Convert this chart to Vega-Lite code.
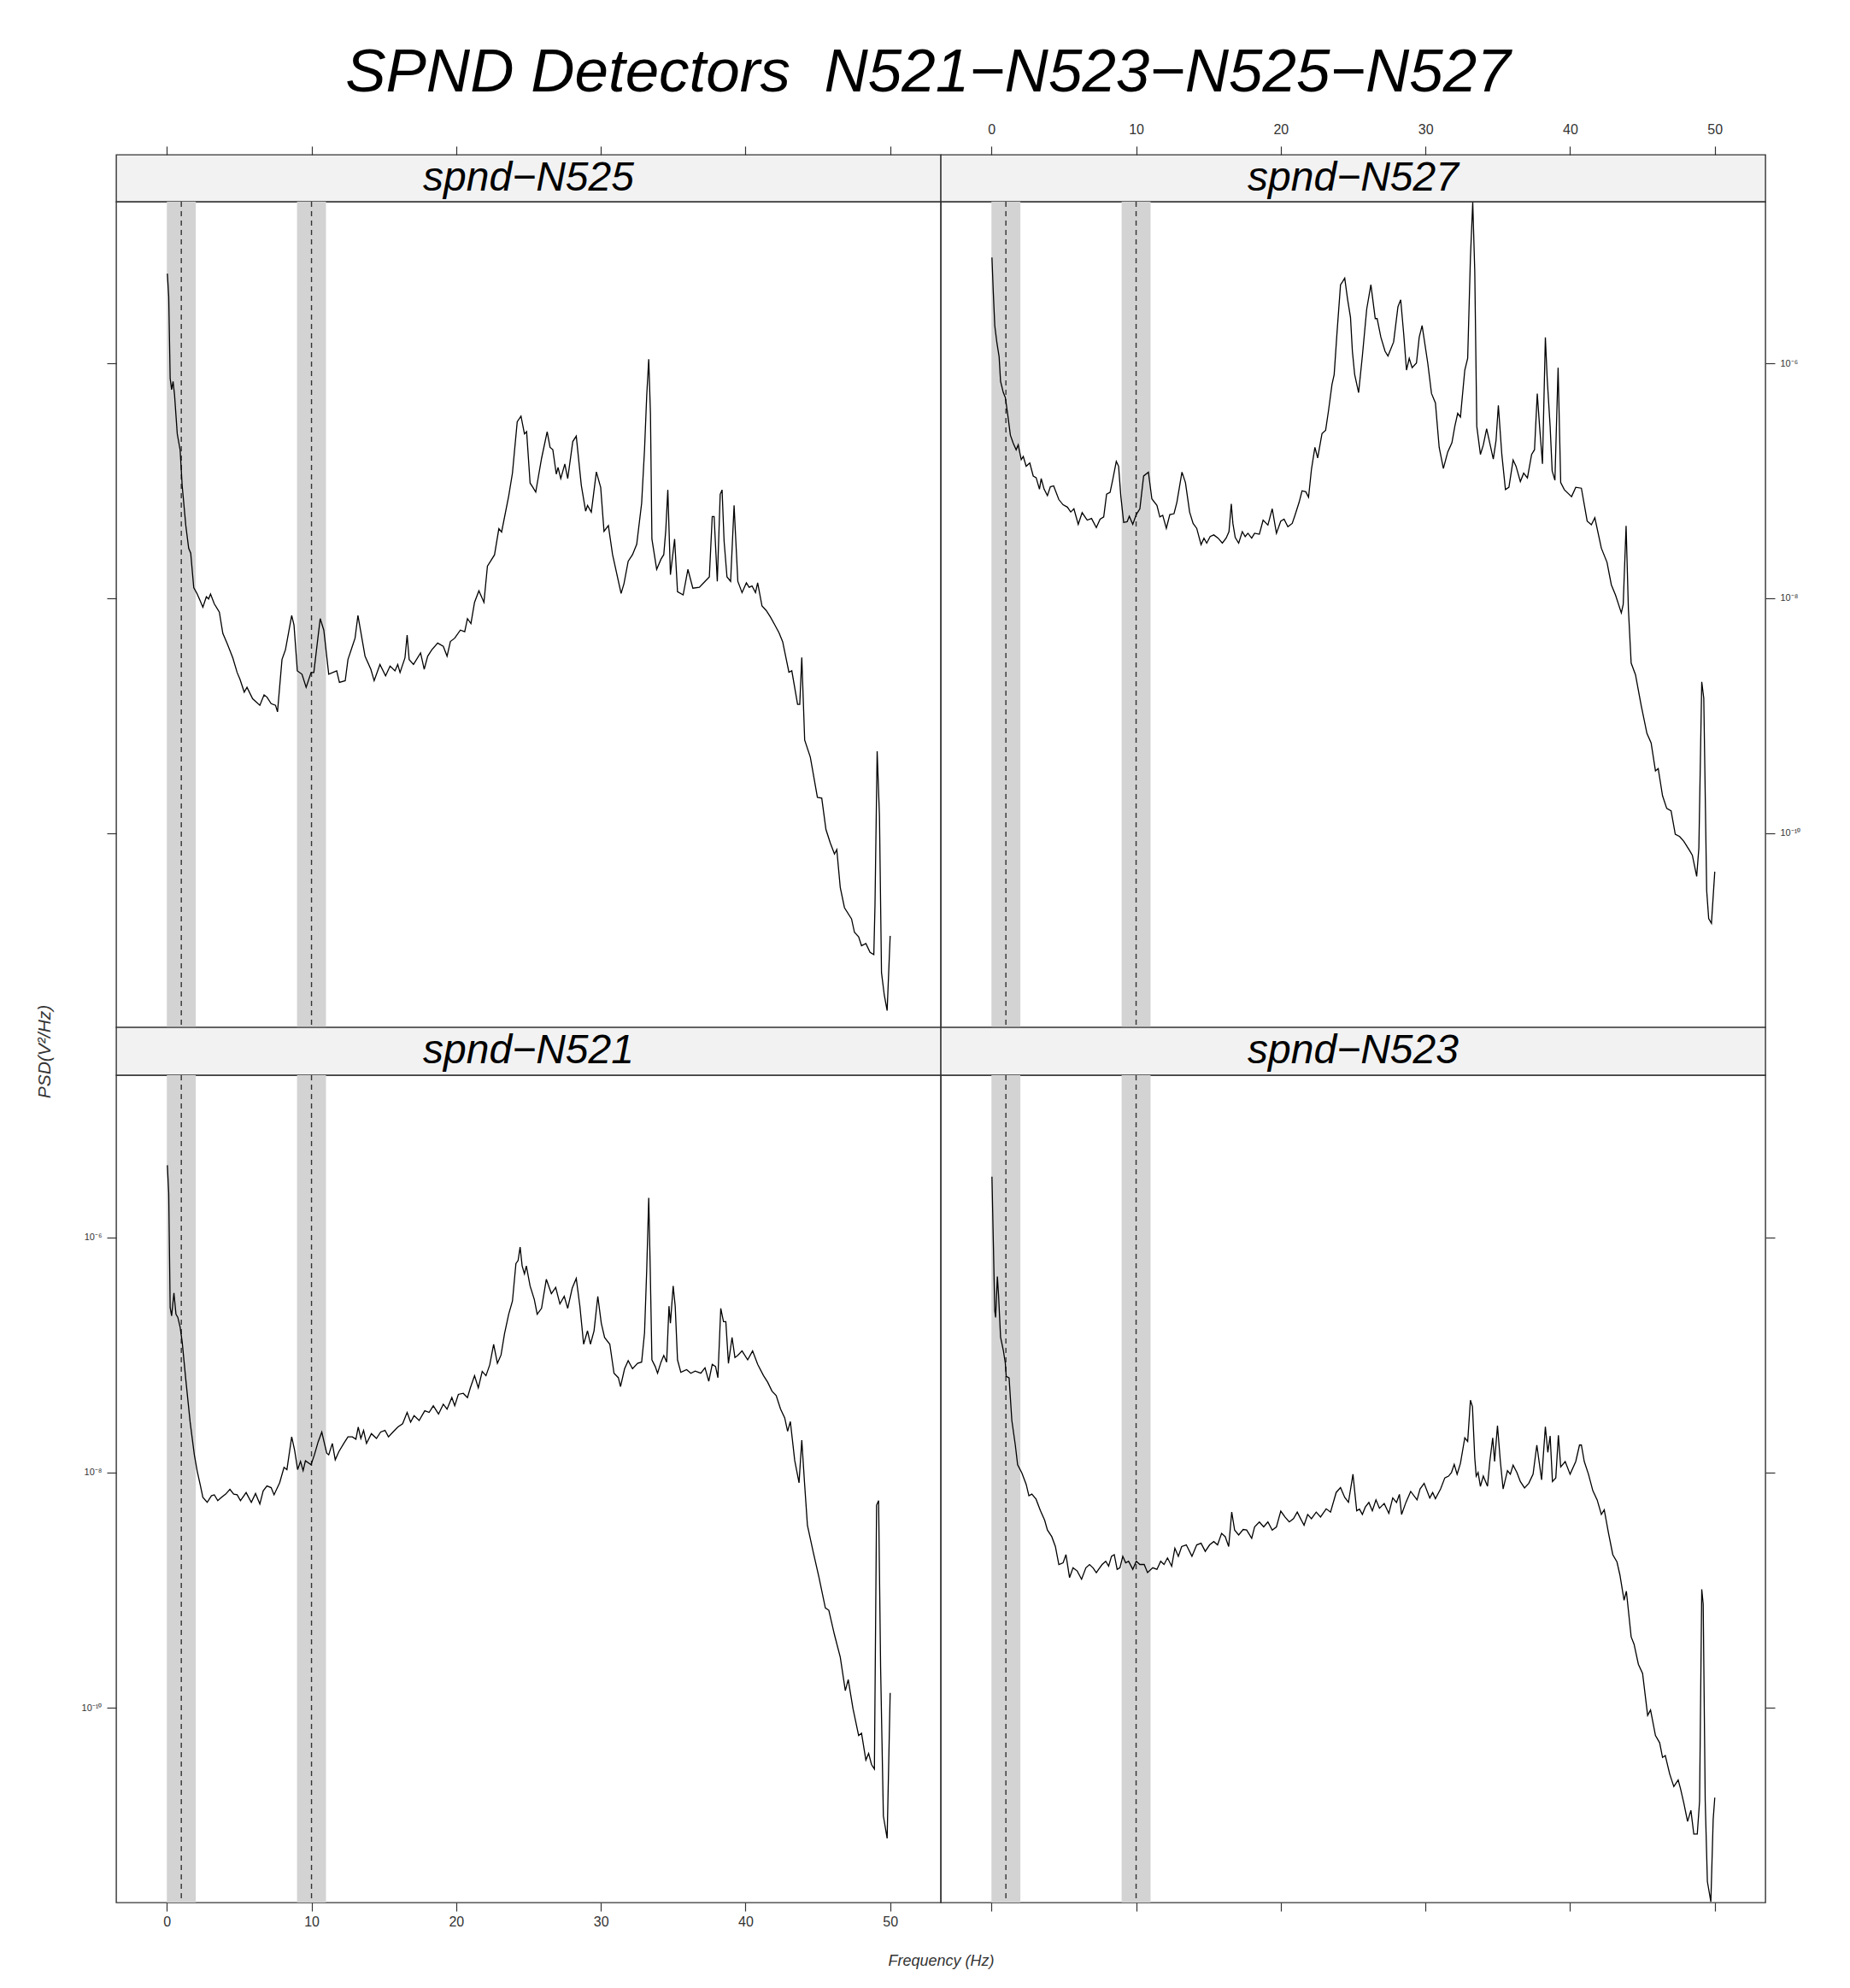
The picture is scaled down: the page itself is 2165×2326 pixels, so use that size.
{
"$schema": "https://vega.github.io/schema/vega-lite/v6.json",
"background": "white",
"padding": {"left": 40, "top": 50, "right": 10, "bottom": 10},
"title": {"text": "SPND Detectors\u00a0 N521−N523−N525−N527", "font": "Liberation Sans", "fontSize": 71, "fontStyle": "italic", "fontWeight": "normal", "color": "black", "anchor": "middle", "offset": 20, "dx": 12},
"config": {
  "font": "Liberation Sans",
  "view": {"stroke": "#333333", "strokeWidth": 1.4},
  "axis": {"tickColor": "#333333", "labelColor": "#333333", "tickWidth": 1.2, "grid": false, "domain": false, "labelFont": "Liberation Sans"}
},
"columns": 2,
"spacing": 0,
"bounds": "flush",
"datasets": {
"N525": [
{"freq":0.035,"log_psd":-5.233},{"freq":0.13,"log_psd":-5.428},{"freq":0.23,"log_psd":-6.125},{"freq":0.33,"log_psd":-6.222},{"freq":0.43,"log_psd":-6.153},{"freq":0.53,"log_psd":-6.264},{"freq":0.72,"log_psd":-6.599},{"freq":0.92,"log_psd":-6.738},{"freq":1.06,"log_psd":-7.04},{"freq":1.31,"log_psd":-7.38},{"freq":1.51,"log_psd":-7.574},{"freq":1.65,"log_psd":-7.616},{"freq":1.86,"log_psd":-7.909},{"freq":2.1,"log_psd":-7.964},{"freq":2.3,"log_psd":-8.02},{"freq":2.49,"log_psd":-8.076},{"freq":2.73,"log_psd":-7.987},{"freq":2.89,"log_psd":-8.006},{"freq":3.02,"log_psd":-7.964},{"freq":3.28,"log_psd":-8.048},{"freq":3.63,"log_psd":-8.118},{"freq":3.87,"log_psd":-8.299},{"freq":4.16,"log_psd":-8.382},{"freq":4.56,"log_psd":-8.508},{"freq":4.86,"log_psd":-8.633},{"freq":5.05,"log_psd":-8.689},{"freq":5.35,"log_psd":-8.8},{"freq":5.54,"log_psd":-8.759},{"freq":5.93,"log_psd":-8.856},{"freq":6.43,"log_psd":-8.912},{"freq":6.72,"log_psd":-8.823},{"freq":6.92,"log_psd":-8.842},{"freq":7.21,"log_psd":-8.898},{"freq":7.51,"log_psd":-8.912},{"freq":7.65,"log_psd":-8.968},{"freq":7.96,"log_psd":-8.522},{"freq":8.2,"log_psd":-8.438},{"freq":8.63,"log_psd":-8.146},{"freq":8.79,"log_psd":-8.229},{"freq":9.02,"log_psd":-8.619},{"freq":9.34,"log_psd":-8.647},{"freq":9.63,"log_psd":-8.759},{"freq":9.97,"log_psd":-8.633},{"freq":10.16,"log_psd":-8.633},{"freq":10.6,"log_psd":-8.173},{"freq":10.85,"log_psd":-8.271},{"freq":11.19,"log_psd":-8.647},{"freq":11.74,"log_psd":-8.619},{"freq":11.93,"log_psd":-8.717},{"freq":12.33,"log_psd":-8.703},{"freq":12.52,"log_psd":-8.522},{"freq":12.82,"log_psd":-8.41},{"freq":13.01,"log_psd":-8.34},{"freq":13.21,"log_psd":-8.146},{"freq":13.7,"log_psd":-8.494},{"freq":14.1,"log_psd":-8.605},{"freq":14.33,"log_psd":-8.703},{"freq":14.73,"log_psd":-8.564},{"freq":15.12,"log_psd":-8.661},{"freq":15.43,"log_psd":-8.578},{"freq":15.77,"log_psd":-8.619},{"freq":15.96,"log_psd":-8.564},{"freq":16.12,"log_psd":-8.633},{"freq":16.46,"log_psd":-8.508},{"freq":16.61,"log_psd":-8.313},{"freq":16.75,"log_psd":-8.522},{"freq":17.05,"log_psd":-8.564},{"freq":17.54,"log_psd":-8.466},{"freq":17.79,"log_psd":-8.605},{"freq":18.03,"log_psd":-8.494},{"freq":18.32,"log_psd":-8.438},{"freq":18.72,"log_psd":-8.382},{"freq":19.11,"log_psd":-8.41},{"freq":19.37,"log_psd":-8.494},{"freq":19.6,"log_psd":-8.368},{"freq":19.9,"log_psd":-8.34},{"freq":20.29,"log_psd":-8.271},{"freq":20.59,"log_psd":-8.285},{"freq":20.78,"log_psd":-8.173},{"freq":21.02,"log_psd":-8.215},{"freq":21.27,"log_psd":-8.034},{"freq":21.57,"log_psd":-7.936},{"freq":21.92,"log_psd":-8.034},{"freq":22.16,"log_psd":-7.727},{"freq":22.65,"log_psd":-7.63},{"freq":22.95,"log_psd":-7.407},{"freq":23.14,"log_psd":-7.435},{"freq":23.63,"log_psd":-7.128},{"freq":23.89,"log_psd":-6.933},{"freq":24.22,"log_psd":-6.495},{"freq":24.48,"log_psd":-6.447},{"freq":24.72,"log_psd":-6.599},{"freq":24.87,"log_psd":-6.58},{"freq":25.11,"log_psd":-7.018},{"freq":25.31,"log_psd":-7.056},{"freq":25.5,"log_psd":-7.095},{"freq":25.9,"log_psd":-6.809},{"freq":26.29,"log_psd":-6.58},{"freq":26.49,"log_psd":-6.714},{"freq":26.68,"log_psd":-6.733},{"freq":26.92,"log_psd":-6.942},{"freq":27.04,"log_psd":-6.885},{"freq":27.23,"log_psd":-6.98},{"freq":27.51,"log_psd":-6.855},{"freq":27.71,"log_psd":-6.98},{"freq":28.06,"log_psd":-6.664},{"freq":28.3,"log_psd":-6.618},{"freq":28.65,"log_psd":-7.037},{"freq":28.95,"log_psd":-7.258},{"freq":29.08,"log_psd":-7.209},{"freq":29.34,"log_psd":-7.266},{"freq":29.69,"log_psd":-6.923},{"freq":29.99,"log_psd":-7.056},{"freq":30.22,"log_psd":-7.43},{"freq":30.52,"log_psd":-7.38},{"freq":30.81,"log_psd":-7.628},{"freq":31.4,"log_psd":-7.959},{"freq":31.6,"log_psd":-7.875},{"freq":31.89,"log_psd":-7.685},{"freq":32.19,"log_psd":-7.628},{"freq":32.48,"log_psd":-7.54},{"freq":32.82,"log_psd":-7.19},{"freq":33.02,"log_psd":-6.733},{"freq":33.17,"log_psd":-6.275},{"freq":33.31,"log_psd":-5.963},{"freq":33.43,"log_psd":-6.428},{"freq":33.53,"log_psd":-7.495},{"freq":33.86,"log_psd":-7.754},{"freq":34.16,"log_psd":-7.666},{"freq":34.35,"log_psd":-7.628},{"freq":34.49,"log_psd":-7.418},{"freq":34.63,"log_psd":-7.076},{"freq":34.81,"log_psd":-7.799},{"freq":35.1,"log_psd":-7.495},{"freq":35.3,"log_psd":-7.944},{"freq":35.69,"log_psd":-7.971},{"freq":36.02,"log_psd":-7.754},{"freq":36.36,"log_psd":-7.914},{"freq":36.81,"log_psd":-7.906},{"freq":37.2,"log_psd":-7.856},{"freq":37.5,"log_psd":-7.818},{"freq":37.7,"log_psd":-7.304},{"freq":37.83,"log_psd":-7.304},{"freq":38.05,"log_psd":-7.856},{"freq":38.25,"log_psd":-7.114},{"freq":38.38,"log_psd":-7.076},{"freq":38.52,"log_psd":-7.514},{"freq":38.72,"log_psd":-7.818},{"freq":38.97,"log_psd":-7.856},{"freq":39.21,"log_psd":-7.209},{"freq":39.47,"log_psd":-7.856},{"freq":39.76,"log_psd":-7.952},{"freq":40.06,"log_psd":-7.868},{"freq":40.25,"log_psd":-7.906},{"freq":40.45,"log_psd":-7.895},{"freq":40.69,"log_psd":-7.952},{"freq":40.84,"log_psd":-7.868},{"freq":41.14,"log_psd":-8.066},{"freq":41.43,"log_psd":-8.104},{"freq":41.73,"log_psd":-8.161},{"freq":42.02,"log_psd":-8.226},{"freq":42.32,"log_psd":-8.295},{"freq":42.57,"log_psd":-8.371},{"freq":43.0,"log_psd":-8.63},{"freq":43.2,"log_psd":-8.618},{"freq":43.6,"log_psd":-8.904},{"freq":43.75,"log_psd":-8.904},{"freq":43.89,"log_psd":-8.504},{"freq":44.09,"log_psd":-9.209},{"freq":44.48,"log_psd":-9.354},{"freq":44.97,"log_psd":-9.697},{"freq":45.27,"log_psd":-9.704},{"freq":45.56,"log_psd":-9.971},{"freq":45.86,"log_psd":-10.085},{"freq":46.15,"log_psd":-10.18},{"freq":46.31,"log_psd":-10.142},{"freq":46.55,"log_psd":-10.466},{"freq":46.84,"log_psd":-10.637},{"freq":47.33,"log_psd":-10.733},{"freq":47.53,"log_psd":-10.847},{"freq":47.82,"log_psd":-10.885},{"freq":48.02,"log_psd":-10.961},{"freq":48.32,"log_psd":-10.942},{"freq":48.61,"log_psd":-11.018},{"freq":48.87,"log_psd":-11.037},{"freq":48.95,"log_psd":-10.618},{"freq":49.1,"log_psd":-9.304},{"freq":49.26,"log_psd":-9.856},{"freq":49.4,"log_psd":-11.19},{"freq":49.59,"log_psd":-11.38},{"freq":49.79,"log_psd":-11.514},{"freq":50.0,"log_psd":-10.877}
],
"N527": [
{"freq":0.035,"log_psd":-5.096},{"freq":0.13,"log_psd":-5.397},{"freq":0.23,"log_psd":-5.676},{"freq":0.37,"log_psd":-5.815},{"freq":0.53,"log_psd":-5.941},{"freq":0.63,"log_psd":-6.15},{"freq":0.82,"log_psd":-6.247},{"freq":0.96,"log_psd":-6.289},{"freq":1.12,"log_psd":-6.429},{"freq":1.31,"log_psd":-6.61},{"freq":1.51,"log_psd":-6.68},{"freq":1.71,"log_psd":-6.735},{"freq":1.85,"log_psd":-6.693},{"freq":2.06,"log_psd":-6.819},{"freq":2.2,"log_psd":-6.791},{"freq":2.4,"log_psd":-6.875},{"freq":2.65,"log_psd":-6.847},{"freq":2.89,"log_psd":-6.958},{"freq":3.09,"log_psd":-6.972},{"freq":3.32,"log_psd":-7.07},{"freq":3.44,"log_psd":-6.98},{"freq":3.64,"log_psd":-7.07},{"freq":3.87,"log_psd":-7.125},{"freq":4.07,"log_psd":-7.05},{"freq":4.3,"log_psd":-7.042},{"freq":4.66,"log_psd":-7.159},{"freq":4.95,"log_psd":-7.203},{"freq":5.25,"log_psd":-7.223},{"freq":5.48,"log_psd":-7.265},{"freq":5.7,"log_psd":-7.237},{"freq":6.0,"log_psd":-7.37},{"freq":6.27,"log_psd":-7.27},{"freq":6.62,"log_psd":-7.334},{"freq":6.92,"log_psd":-7.32},{"freq":7.25,"log_psd":-7.398},{"freq":7.51,"log_psd":-7.326},{"freq":7.76,"log_psd":-7.307},{"freq":7.96,"log_psd":-7.112},{"freq":8.2,"log_psd":-7.097},{"freq":8.39,"log_psd":-6.986},{"freq":8.63,"log_psd":-6.833},{"freq":8.79,"log_psd":-6.875},{"freq":8.94,"log_psd":-7.125},{"freq":9.14,"log_psd":-7.354},{"freq":9.38,"log_psd":-7.348},{"freq":9.53,"log_psd":-7.301},{"freq":9.77,"log_psd":-7.37},{"freq":10.01,"log_psd":-7.287},{"freq":10.26,"log_psd":-7.237},{"freq":10.52,"log_psd":-6.958},{"freq":10.85,"log_psd":-6.925},{"freq":11.09,"log_psd":-7.153},{"freq":11.44,"log_psd":-7.209},{"freq":11.64,"log_psd":-7.307},{"freq":11.84,"log_psd":-7.293},{"freq":12.09,"log_psd":-7.404},{"freq":12.33,"log_psd":-7.287},{"freq":12.62,"log_psd":-7.279},{"freq":12.82,"log_psd":-7.181},{"freq":13.17,"log_psd":-6.925},{"freq":13.41,"log_psd":-7.014},{"freq":13.7,"log_psd":-7.265},{"freq":13.94,"log_psd":-7.362},{"freq":14.19,"log_psd":-7.404},{"freq":14.49,"log_psd":-7.543},{"freq":14.69,"log_psd":-7.488},{"freq":14.88,"log_psd":-7.53},{"freq":15.12,"log_psd":-7.474},{"freq":15.37,"log_psd":-7.46},{"freq":15.67,"log_psd":-7.488},{"freq":15.96,"log_psd":-7.53},{"freq":16.22,"log_psd":-7.488},{"freq":16.42,"log_psd":-7.432},{"freq":16.58,"log_psd":-7.195},{"freq":16.69,"log_psd":-7.362},{"freq":16.85,"log_psd":-7.482},{"freq":17.09,"log_psd":-7.53},{"freq":17.34,"log_psd":-7.432},{"freq":17.54,"log_psd":-7.474},{"freq":17.73,"log_psd":-7.446},{"freq":17.99,"log_psd":-7.488},{"freq":18.19,"log_psd":-7.446},{"freq":18.52,"log_psd":-7.454},{"freq":18.78,"log_psd":-7.334},{"freq":19.11,"log_psd":-7.376},{"freq":19.41,"log_psd":-7.237},{"freq":19.7,"log_psd":-7.446},{"freq":20.0,"log_psd":-7.343},{"freq":20.23,"log_psd":-7.326},{"freq":20.49,"log_psd":-7.39},{"freq":20.79,"log_psd":-7.362},{"freq":20.98,"log_psd":-7.293},{"freq":21.27,"log_psd":-7.181},{"freq":21.47,"log_psd":-7.084},{"freq":21.73,"log_psd":-7.092},{"freq":21.92,"log_psd":-7.139},{"freq":22.12,"log_psd":-6.902},{"freq":22.36,"log_psd":-6.713},{"freq":22.55,"log_psd":-6.805},{"freq":22.85,"log_psd":-6.596},{"freq":23.1,"log_psd":-6.568},{"freq":23.3,"log_psd":-6.401},{"freq":23.54,"log_psd":-6.178},{"freq":23.69,"log_psd":-6.094},{"freq":23.89,"log_psd":-5.732},{"freq":24.13,"log_psd":-5.328},{"freq":24.28,"log_psd":-5.3},{"freq":24.42,"log_psd":-5.272},{"freq":24.62,"log_psd":-5.453},{"freq":24.82,"log_psd":-5.606},{"freq":24.95,"log_psd":-5.895},{"freq":25.11,"log_psd":-6.095},{"freq":25.38,"log_psd":-6.247},{"freq":25.64,"log_psd":-5.935},{"freq":25.94,"log_psd":-5.536},{"freq":26.23,"log_psd":-5.328},{"freq":26.53,"log_psd":-5.616},{"freq":26.66,"log_psd":-5.616},{"freq":26.92,"log_psd":-5.776},{"freq":27.21,"log_psd":-5.895},{"freq":27.41,"log_psd":-5.935},{"freq":27.8,"log_psd":-5.816},{"freq":28.1,"log_psd":-5.516},{"freq":28.29,"log_psd":-5.456},{"freq":28.49,"log_psd":-5.736},{"freq":28.69,"log_psd":-6.055},{"freq":28.88,"log_psd":-5.955},{"freq":29.08,"log_psd":-6.035},{"freq":29.38,"log_psd":-5.995},{"freq":29.57,"log_psd":-5.776},{"freq":29.77,"log_psd":-5.676},{"freq":30.16,"log_psd":-5.995},{"freq":30.42,"log_psd":-6.255},{"freq":30.69,"log_psd":-6.335},{"freq":30.95,"log_psd":-6.714},{"freq":31.24,"log_psd":-6.894},{"freq":31.54,"log_psd":-6.754},{"freq":31.83,"log_psd":-6.675},{"freq":32.03,"log_psd":-6.535},{"freq":32.23,"log_psd":-6.423},{"freq":32.42,"log_psd":-6.455},{"freq":32.72,"log_psd":-6.055},{"freq":32.92,"log_psd":-5.955},{"freq":33.11,"log_psd":-5.096},{"freq":33.27,"log_psd":-4.625},{"freq":33.41,"log_psd":-5.216},{"freq":33.55,"log_psd":-6.535},{"freq":33.8,"log_psd":-6.774},{"freq":34.0,"log_psd":-6.694},{"freq":34.23,"log_psd":-6.555},{"freq":34.69,"log_psd":-6.814},{"freq":34.88,"log_psd":-6.655},{"freq":35.04,"log_psd":-6.355},{"freq":35.28,"log_psd":-6.774},{"freq":35.53,"log_psd":-7.074},{"freq":35.77,"log_psd":-7.054},{"freq":36.06,"log_psd":-6.822},{"freq":36.26,"log_psd":-6.874},{"freq":36.56,"log_psd":-7.006},{"freq":36.79,"log_psd":-6.934},{"freq":37.05,"log_psd":-6.974},{"freq":37.34,"log_psd":-6.774},{"freq":37.54,"log_psd":-6.734},{"freq":37.73,"log_psd":-6.255},{"freq":37.89,"log_psd":-6.535},{"freq":38.09,"log_psd":-6.854},{"freq":38.29,"log_psd":-5.776},{"freq":38.42,"log_psd":-6.135},{"freq":38.62,"log_psd":-6.535},{"freq":38.76,"log_psd":-6.914},{"freq":38.95,"log_psd":-6.994},{"freq":39.17,"log_psd":-6.035},{"freq":39.35,"log_psd":-7.014},{"freq":39.6,"log_psd":-7.074},{"freq":40.1,"log_psd":-7.134},{"freq":40.39,"log_psd":-7.054},{"freq":40.78,"log_psd":-7.062},{"freq":41.18,"log_psd":-7.342},{"freq":41.47,"log_psd":-7.374},{"freq":41.71,"log_psd":-7.314},{"freq":42.16,"log_psd":-7.573},{"freq":42.55,"log_psd":-7.693},{"freq":42.85,"log_psd":-7.885},{"freq":43.14,"log_psd":-7.973},{"freq":43.54,"log_psd":-8.125},{"freq":43.67,"log_psd":-8.053},{"freq":43.87,"log_psd":-7.382},{"freq":44.03,"log_psd":-8.093},{"freq":44.22,"log_psd":-8.552},{"freq":44.52,"log_psd":-8.652},{"freq":44.91,"log_psd":-8.912},{"freq":45.31,"log_psd":-9.152},{"freq":45.6,"log_psd":-9.232},{"freq":45.9,"log_psd":-9.471},{"freq":46.09,"log_psd":-9.451},{"freq":46.39,"log_psd":-9.683},{"freq":46.68,"log_psd":-9.791},{"freq":46.98,"log_psd":-9.811},{"freq":47.27,"log_psd":-10.011},{"freq":47.57,"log_psd":-10.031},{"freq":47.86,"log_psd":-10.071},{"freq":48.26,"log_psd":-10.15},{"freq":48.45,"log_psd":-10.19},{"freq":48.75,"log_psd":-10.37},{"freq":48.9,"log_psd":-10.13},{"freq":49.1,"log_psd":-8.712},{"freq":49.24,"log_psd":-8.852},{"freq":49.44,"log_psd":-10.49},{"freq":49.58,"log_psd":-10.73},{"freq":49.77,"log_psd":-10.77},{"freq":50.0,"log_psd":-10.33}
],
"N521": [
{"freq":0.035,"log_psd":-5.386},{"freq":0.13,"log_psd":-5.623},{"freq":0.23,"log_psd":-6.597},{"freq":0.33,"log_psd":-6.667},{"freq":0.49,"log_psd":-6.472},{"freq":0.63,"log_psd":-6.653},{"freq":0.76,"log_psd":-6.68},{"freq":0.92,"log_psd":-6.764},{"freq":1.06,"log_psd":-6.889},{"freq":1.31,"log_psd":-7.209},{"freq":1.61,"log_psd":-7.571},{"freq":1.9,"log_psd":-7.849},{"freq":2.1,"log_psd":-7.988},{"freq":2.3,"log_psd":-8.1},{"freq":2.49,"log_psd":-8.211},{"freq":2.79,"log_psd":-8.253},{"freq":3.08,"log_psd":-8.197},{"freq":3.28,"log_psd":-8.189},{"freq":3.52,"log_psd":-8.239},{"freq":3.77,"log_psd":-8.211},{"freq":4.07,"log_psd":-8.183},{"freq":4.36,"log_psd":-8.142},{"freq":4.62,"log_psd":-8.183},{"freq":4.86,"log_psd":-8.189},{"freq":5.09,"log_psd":-8.239},{"freq":5.48,"log_psd":-8.17},{"freq":5.84,"log_psd":-8.253},{"freq":6.13,"log_psd":-8.178},{"freq":6.43,"log_psd":-8.267},{"freq":6.66,"log_psd":-8.156},{"freq":6.92,"log_psd":-8.114},{"freq":7.21,"log_psd":-8.128},{"freq":7.41,"log_psd":-8.189},{"freq":7.8,"log_psd":-8.086},{"freq":8.1,"log_psd":-7.955},{"freq":8.3,"log_psd":-7.975},{"freq":8.63,"log_psd":-7.696},{"freq":8.83,"log_psd":-7.808},{"freq":9.04,"log_psd":-7.975},{"freq":9.24,"log_psd":-7.905},{"freq":9.42,"log_psd":-7.983},{"freq":9.58,"log_psd":-7.9},{"freq":9.97,"log_psd":-7.933},{"freq":10.2,"log_psd":-7.849},{"freq":10.46,"log_psd":-7.738},{"freq":10.71,"log_psd":-7.655},{"freq":11.05,"log_psd":-7.835},{"freq":11.19,"log_psd":-7.849},{"freq":11.44,"log_psd":-7.752},{"freq":11.64,"log_psd":-7.891},{"freq":11.89,"log_psd":-7.822},{"freq":12.23,"log_psd":-7.752},{"freq":12.52,"log_psd":-7.696},{"freq":12.82,"log_psd":-7.696},{"freq":13.07,"log_psd":-7.716},{"freq":13.23,"log_psd":-7.613},{"freq":13.41,"log_psd":-7.71},{"freq":13.6,"log_psd":-7.641},{"freq":13.8,"log_psd":-7.752},{"freq":14.14,"log_psd":-7.669},{"freq":14.49,"log_psd":-7.71},{"freq":14.78,"log_psd":-7.655},{"freq":15.08,"log_psd":-7.641},{"freq":15.32,"log_psd":-7.696},{"freq":15.63,"log_psd":-7.655},{"freq":15.96,"log_psd":-7.613},{"freq":16.3,"log_psd":-7.585},{"freq":16.61,"log_psd":-7.488},{"freq":16.85,"log_psd":-7.571},{"freq":17.09,"log_psd":-7.516},{"freq":17.44,"log_psd":-7.557},{"freq":17.83,"log_psd":-7.474},{"freq":18.13,"log_psd":-7.488},{"freq":18.42,"log_psd":-7.432},{"freq":18.78,"log_psd":-7.502},{"freq":19.11,"log_psd":-7.418},{"freq":19.37,"log_psd":-7.46},{"freq":19.7,"log_psd":-7.362},{"freq":19.9,"log_psd":-7.432},{"freq":20.15,"log_psd":-7.335},{"freq":20.49,"log_psd":-7.326},{"freq":20.78,"log_psd":-7.362},{"freq":20.98,"log_psd":-7.279},{"freq":21.27,"log_psd":-7.176},{"freq":21.53,"log_psd":-7.279},{"freq":21.8,"log_psd":-7.14},{"freq":22.06,"log_psd":-7.176},{"freq":22.32,"log_psd":-7.084},{"freq":22.59,"log_psd":-6.909},{"freq":22.85,"log_psd":-7.07},{"freq":23.1,"log_psd":-7.0},{"freq":23.34,"log_psd":-6.82},{"freq":23.63,"log_psd":-6.653},{"freq":23.89,"log_psd":-6.541},{"freq":24.13,"log_psd":-6.223},{"freq":24.28,"log_psd":-6.196},{"freq":24.42,"log_psd":-6.082},{"freq":24.56,"log_psd":-6.242},{"freq":24.72,"log_psd":-6.31},{"freq":24.85,"log_psd":-6.242},{"freq":25.11,"log_psd":-6.413},{"freq":25.4,"log_psd":-6.527},{"freq":25.6,"log_psd":-6.653},{"freq":25.9,"log_psd":-6.603},{"freq":26.23,"log_psd":-6.356},{"freq":26.58,"log_psd":-6.478},{"freq":26.88,"log_psd":-6.425},{"freq":27.17,"log_psd":-6.565},{"freq":27.47,"log_psd":-6.501},{"freq":27.71,"log_psd":-6.603},{"freq":28.02,"log_psd":-6.432},{"freq":28.3,"log_psd":-6.348},{"freq":28.55,"log_psd":-6.584},{"freq":28.81,"log_psd":-6.908},{"freq":29.08,"log_psd":-6.794},{"freq":29.28,"log_psd":-6.908},{"freq":29.53,"log_psd":-6.794},{"freq":29.79,"log_psd":-6.501},{"freq":30.03,"log_psd":-6.729},{"freq":30.26,"log_psd":-6.851},{"freq":30.62,"log_psd":-6.908},{"freq":30.91,"log_psd":-7.155},{"freq":31.21,"log_psd":-7.193},{"freq":31.36,"log_psd":-7.269},{"freq":31.64,"log_psd":-7.117},{"freq":31.89,"log_psd":-7.048},{"freq":32.19,"log_psd":-7.117},{"freq":32.54,"log_psd":-7.071},{"freq":32.82,"log_psd":-7.06},{"freq":33.02,"log_psd":-6.812},{"freq":33.17,"log_psd":-6.28},{"freq":33.31,"log_psd":-5.664},{"freq":33.41,"log_psd":-6.242},{"freq":33.53,"log_psd":-7.041},{"freq":33.76,"log_psd":-7.098},{"freq":33.92,"log_psd":-7.155},{"freq":34.16,"log_psd":-7.06},{"freq":34.35,"log_psd":-7.003},{"freq":34.55,"log_psd":-7.06},{"freq":34.71,"log_psd":-6.584},{"freq":34.81,"log_psd":-6.729},{"freq":35.0,"log_psd":-6.413},{"freq":35.14,"log_psd":-6.584},{"freq":35.3,"log_psd":-7.041},{"freq":35.53,"log_psd":-7.147},{"freq":35.93,"log_psd":-7.124},{"freq":36.22,"log_psd":-7.155},{"freq":36.52,"log_psd":-7.136},{"freq":36.91,"log_psd":-7.155},{"freq":37.2,"log_psd":-7.109},{"freq":37.46,"log_psd":-7.223},{"freq":37.7,"log_psd":-7.079},{"freq":37.93,"log_psd":-7.098},{"freq":38.09,"log_psd":-7.193},{"freq":38.29,"log_psd":-6.603},{"freq":38.48,"log_psd":-6.717},{"freq":38.64,"log_psd":-6.717},{"freq":38.82,"log_psd":-7.071},{"freq":39.07,"log_psd":-6.851},{"freq":39.27,"log_psd":-7.022},{"freq":39.47,"log_psd":-7.003},{"freq":39.76,"log_psd":-6.965},{"freq":40.15,"log_psd":-7.041},{"freq":40.49,"log_psd":-6.965},{"freq":40.84,"log_psd":-7.079},{"freq":41.24,"log_psd":-7.174},{"freq":41.53,"log_psd":-7.231},{"freq":41.83,"log_psd":-7.307},{"freq":42.12,"log_psd":-7.345},{"freq":42.42,"log_psd":-7.459},{"freq":42.71,"log_psd":-7.535},{"freq":42.91,"log_psd":-7.649},{"freq":43.1,"log_psd":-7.566},{"freq":43.4,"log_psd":-7.896},{"freq":43.7,"log_psd":-8.087},{"freq":43.89,"log_psd":-7.725},{"freq":44.09,"log_psd":-8.106},{"freq":44.28,"log_psd":-8.448},{"freq":44.68,"log_psd":-8.676},{"freq":45.07,"log_psd":-8.886},{"freq":45.52,"log_psd":-9.152},{"freq":45.76,"log_psd":-9.171},{"freq":46.15,"log_psd":-9.38},{"freq":46.55,"log_psd":-9.57},{"freq":46.9,"log_psd":-9.855},{"freq":47.1,"log_psd":-9.76},{"freq":47.43,"log_psd":-10.008},{"freq":47.82,"log_psd":-10.236},{"freq":48.02,"log_psd":-10.217},{"freq":48.32,"log_psd":-10.445},{"freq":48.51,"log_psd":-10.388},{"freq":48.71,"log_psd":-10.483},{"freq":48.91,"log_psd":-10.521},{"freq":49.06,"log_psd":-8.277},{"freq":49.2,"log_psd":-8.239},{"freq":49.34,"log_psd":-9.665},{"freq":49.53,"log_psd":-10.921},{"freq":49.79,"log_psd":-11.111},{"freq":50.0,"log_psd":-9.874}
],
"N523": [
{"freq":0.035,"log_psd":-5.484},{"freq":0.13,"log_psd":-6.04},{"freq":0.23,"log_psd":-6.625},{"freq":0.29,"log_psd":-6.68},{"freq":0.41,"log_psd":-6.333},{"freq":0.49,"log_psd":-6.486},{"freq":0.63,"log_psd":-6.847},{"freq":0.82,"log_psd":-6.959},{"freq":0.96,"log_psd":-7.07},{"freq":1.02,"log_psd":-7.181},{"freq":1.22,"log_psd":-7.195},{"freq":1.41,"log_psd":-7.557},{"freq":1.65,"log_psd":-7.766},{"freq":1.81,"log_psd":-7.933},{"freq":2.1,"log_psd":-8.002},{"freq":2.4,"log_psd":-8.1},{"freq":2.59,"log_psd":-8.197},{"freq":2.79,"log_psd":-8.183},{"freq":3.08,"log_psd":-8.225},{"freq":3.38,"log_psd":-8.322},{"freq":3.68,"log_psd":-8.406},{"freq":3.87,"log_psd":-8.489},{"freq":4.17,"log_psd":-8.545},{"freq":4.42,"log_psd":-8.629},{"freq":4.66,"log_psd":-8.782},{"freq":4.95,"log_psd":-8.768},{"freq":5.15,"log_psd":-8.698},{"freq":5.4,"log_psd":-8.893},{"freq":5.64,"log_psd":-8.81},{"freq":5.93,"log_psd":-8.837},{"freq":6.23,"log_psd":-8.907},{"freq":6.53,"log_psd":-8.81},{"freq":6.78,"log_psd":-8.782},{"freq":7.02,"log_psd":-8.81},{"freq":7.25,"log_psd":-8.851},{"freq":7.41,"log_psd":-8.823},{"freq":7.65,"log_psd":-8.782},{"freq":7.9,"log_psd":-8.754},{"freq":8.1,"log_psd":-8.796},{"freq":8.3,"log_psd":-8.712},{"freq":8.49,"log_psd":-8.698},{"freq":8.69,"log_psd":-8.823},{"freq":8.88,"log_psd":-8.81},{"freq":9.08,"log_psd":-8.712},{"freq":9.28,"log_psd":-8.768},{"freq":9.48,"log_psd":-8.754},{"freq":9.77,"log_psd":-8.823},{"freq":10.01,"log_psd":-8.754},{"freq":10.26,"log_psd":-8.782},{"freq":10.56,"log_psd":-8.782},{"freq":10.79,"log_psd":-8.851},{"freq":11.15,"log_psd":-8.81},{"freq":11.44,"log_psd":-8.823},{"freq":11.7,"log_psd":-8.754},{"freq":11.93,"log_psd":-8.782},{"freq":12.17,"log_psd":-8.726},{"freq":12.46,"log_psd":-8.796},{"freq":12.68,"log_psd":-8.643},{"freq":12.92,"log_psd":-8.712},{"freq":13.15,"log_psd":-8.629},{"freq":13.47,"log_psd":-8.615},{"freq":13.86,"log_psd":-8.712},{"freq":14.19,"log_psd":-8.615},{"freq":14.49,"log_psd":-8.601},{"freq":14.78,"log_psd":-8.67},{"freq":15.08,"log_psd":-8.615},{"freq":15.37,"log_psd":-8.587},{"freq":15.63,"log_psd":-8.615},{"freq":15.91,"log_psd":-8.517},{"freq":16.16,"log_psd":-8.545},{"freq":16.4,"log_psd":-8.629},{"freq":16.61,"log_psd":-8.336},{"freq":16.81,"log_psd":-8.489},{"freq":17.09,"log_psd":-8.531},{"freq":17.4,"log_psd":-8.484},{"freq":17.64,"log_psd":-8.489},{"freq":17.99,"log_psd":-8.559},{"freq":18.19,"log_psd":-8.462},{"freq":18.52,"log_psd":-8.42},{"freq":18.82,"log_psd":-8.462},{"freq":19.11,"log_psd":-8.42},{"freq":19.41,"log_psd":-8.489},{"freq":19.7,"log_psd":-8.462},{"freq":20.0,"log_psd":-8.328},{"freq":20.29,"log_psd":-8.378},{"freq":20.59,"log_psd":-8.42},{"freq":20.88,"log_psd":-8.392},{"freq":21.14,"log_psd":-8.336},{"freq":21.37,"log_psd":-8.392},{"freq":21.61,"log_psd":-8.448},{"freq":21.86,"log_psd":-8.356},{"freq":22.12,"log_psd":-8.392},{"freq":22.45,"log_psd":-8.336},{"freq":22.75,"log_psd":-8.378},{"freq":23.14,"log_psd":-8.308},{"freq":23.44,"log_psd":-8.336},{"freq":23.83,"log_psd":-8.169},{"freq":24.13,"log_psd":-8.128},{"freq":24.42,"log_psd":-8.211},{"freq":24.68,"log_psd":-8.253},{"freq":24.99,"log_psd":-8.014},{"freq":25.25,"log_psd":-8.325},{"freq":25.44,"log_psd":-8.31},{"freq":25.64,"log_psd":-8.356},{"freq":25.84,"log_psd":-8.294},{"freq":26.09,"log_psd":-8.254},{"freq":26.33,"log_psd":-8.325},{"freq":26.58,"log_psd":-8.232},{"freq":26.82,"log_psd":-8.303},{"freq":27.15,"log_psd":-8.263},{"freq":27.47,"log_psd":-8.347},{"freq":27.74,"log_psd":-8.216},{"freq":28.0,"log_psd":-8.254},{"freq":28.2,"log_psd":-8.185},{"freq":28.35,"log_psd":-8.356},{"freq":28.65,"log_psd":-8.254},{"freq":28.98,"log_psd":-8.16},{"freq":29.42,"log_psd":-8.232},{"freq":29.63,"log_psd":-8.139},{"freq":29.91,"log_psd":-8.092},{"freq":30.3,"log_psd":-8.216},{"freq":30.5,"log_psd":-8.17},{"freq":30.69,"log_psd":-8.223},{"freq":31.05,"log_psd":-8.139},{"freq":31.34,"log_psd":-8.045},{"freq":31.6,"log_psd":-8.03},{"freq":31.8,"log_psd":-7.999},{"freq":31.99,"log_psd":-7.93},{"freq":32.19,"log_psd":-8.014},{"freq":32.42,"log_psd":-7.921},{"freq":32.72,"log_psd":-7.704},{"freq":32.92,"log_psd":-7.735},{"freq":33.11,"log_psd":-7.384},{"freq":33.25,"log_psd":-7.44},{"freq":33.41,"log_psd":-7.875},{"freq":33.51,"log_psd":-8.03},{"freq":33.64,"log_psd":-7.999},{"freq":33.8,"log_psd":-8.117},{"freq":34.0,"log_psd":-8.03},{"freq":34.29,"log_psd":-8.117},{"freq":34.45,"log_psd":-7.906},{"freq":34.65,"log_psd":-7.704},{"freq":34.78,"log_psd":-7.906},{"freq":34.98,"log_psd":-7.601},{"freq":35.18,"log_psd":-7.906},{"freq":35.37,"log_psd":-8.139},{"freq":35.67,"log_psd":-7.983},{"freq":35.87,"log_psd":-8.014},{"freq":36.06,"log_psd":-7.937},{"freq":36.32,"log_psd":-7.999},{"freq":36.56,"log_psd":-8.076},{"freq":36.85,"log_psd":-8.13},{"freq":37.14,"log_psd":-8.092},{"freq":37.44,"log_psd":-8.014},{"freq":37.7,"log_psd":-7.766},{"freq":38.03,"log_psd":-8.061},{"freq":38.29,"log_psd":-7.61},{"freq":38.46,"log_psd":-7.828},{"freq":38.62,"log_psd":-7.688},{"freq":38.78,"log_psd":-8.076},{"freq":39.01,"log_psd":-8.045},{"freq":39.19,"log_psd":-7.682},{"freq":39.35,"log_psd":-7.952},{"freq":39.66,"log_psd":-7.906},{"freq":40.0,"log_psd":-8.014},{"freq":40.39,"log_psd":-7.906},{"freq":40.65,"log_psd":-7.766},{"freq":40.78,"log_psd":-7.766},{"freq":40.98,"log_psd":-7.906},{"freq":41.27,"log_psd":-8.014},{"freq":41.57,"log_psd":-8.154},{"freq":41.87,"log_psd":-8.232},{"freq":42.16,"log_psd":-8.356},{"freq":42.36,"log_psd":-8.316},{"freq":42.65,"log_psd":-8.512},{"freq":42.95,"log_psd":-8.698},{"freq":43.24,"log_psd":-8.76},{"freq":43.44,"log_psd":-8.869},{"freq":43.73,"log_psd":-9.086},{"freq":43.89,"log_psd":-9.009},{"freq":44.22,"log_psd":-9.397},{"freq":44.42,"log_psd":-9.459},{"freq":44.72,"log_psd":-9.63},{"freq":45.01,"log_psd":-9.708},{"freq":45.36,"log_psd":-10.065},{"freq":45.56,"log_psd":-10.019},{"freq":45.9,"log_psd":-10.236},{"freq":46.19,"log_psd":-10.298},{"freq":46.39,"log_psd":-10.423},{"freq":46.58,"log_psd":-10.407},{"freq":46.88,"log_psd":-10.562},{"freq":47.17,"log_psd":-10.671},{"freq":47.47,"log_psd":-10.615},{"freq":47.63,"log_psd":-10.687},{"freq":47.86,"log_psd":-10.811},{"freq":48.12,"log_psd":-10.967},{"freq":48.35,"log_psd":-10.873},{"freq":48.55,"log_psd":-11.075},{"freq":48.79,"log_psd":-11.075},{"freq":48.95,"log_psd":-10.796},{"freq":49.1,"log_psd":-8.993},{"freq":49.2,"log_psd":-9.118},{"freq":49.34,"log_psd":-10.796},{"freq":49.49,"log_psd":-11.479},{"freq":49.73,"log_psd":-11.65},{"freq":49.89,"log_psd":-10.951},{"freq":50.0,"log_psd":-10.765}
],
"bands": [{"freq": 0, "freq_end": 2}, {"freq": 9, "freq_end": 11}],
"markers": [{"freq": 1}, {"freq": 10}]
},
"concat": [
{
  "width": 965, "height": 55,
  "view": {"fill": "#f2f2f2"},
  "data": {"values": [{"label": "spnd−N525"}]},
  "mark": {"type": "text", "font": "Liberation Sans", "fontSize": 48, "fontStyle": "italic", "color": "black", "baseline": "middle"},
  "encoding": {
    "x": {"datum": 25, "type": "quantitative", "scale": {"domain": [-3.5, 53.5], "nice": false, "zero": false},
          "axis": {"orient": "top", "values": [0, 10, 20, 30, 40, 50], "labels": false, "tickSize": 10, "title": null}},
    "text": {"field": "label"}
  }
},
{
  "width": 965, "height": 55,
  "view": {"fill": "#f2f2f2"},
  "data": {"values": [{"label": "spnd−N527"}]},
  "mark": {"type": "text", "font": "Liberation Sans", "fontSize": 48, "fontStyle": "italic", "color": "black", "baseline": "middle"},
  "encoding": {
    "x": {"datum": 25, "type": "quantitative", "scale": {"domain": [-3.5, 53.5], "nice": false, "zero": false},
          "axis": {"orient": "top", "values": [0, 10, 20, 30, 40, 50], "tickSize": 10, "labelPadding": 12, "labelFontSize": 16, "title": null}},
    "text": {"field": "label"}
  }
},
{
  "width": 965, "height": 966,
  "encoding": {"x": {"field": "freq", "type": "quantitative", "scale": {"domain": [-3.5, 53.5], "nice": false, "zero": false}, "axis": null}},
  "layer": [
    {"data": {"name": "bands"}, "mark": {"type": "rect", "color": "#d3d3d3"}, "encoding": {"x2": {"field": "freq_end"}}},
    {"data": {"name": "markers"}, "mark": {"type": "rule", "color": "#333333", "strokeDash": [6, 5], "strokeWidth": 1.4}, "encoding": {}},
    {"data": {"name": "N525"}, "mark": {"type": "line", "color": "black", "strokeWidth": 1.3, "clip": true},
     "encoding": {"y": {"field": "log_psd", "type": "quantitative", "scale": {"domain": [-11.657, -4.62], "nice": false, "zero": false},
       "axis": {"orient": "left", "values": [-10, -8, -6], "labels": false, "tickSize": 11, "title": null}}}}
  ]
},
{
  "width": 965, "height": 966,
  "encoding": {"x": {"field": "freq", "type": "quantitative", "scale": {"domain": [-3.5, 53.5], "nice": false, "zero": false}, "axis": null}},
  "layer": [
    {"data": {"name": "bands"}, "mark": {"type": "rect", "color": "#d3d3d3"}, "encoding": {"x2": {"field": "freq_end"}}},
    {"data": {"name": "markers"}, "mark": {"type": "rule", "color": "#333333", "strokeDash": [6, 5], "strokeWidth": 1.4}, "encoding": {}},
    {"data": {"name": "N527"}, "mark": {"type": "line", "color": "black", "strokeWidth": 1.3, "clip": true},
     "encoding": {"y": {"field": "log_psd", "type": "quantitative", "scale": {"domain": [-11.657, -4.62], "nice": false, "zero": false},
       "axis": {"orient": "right", "values": [-10, -8, -6], "tickSize": 11, "labelPadding": 6, "labelFontSize": 11, "title": null,
                "labelExpr": "datum.value == -6 ? '10⁻⁶' : datum.value == -8 ? '10⁻⁸' : '10⁻¹⁰'"}}}}
  ]
},
{
  "width": 965, "height": 56,
  "view": {"fill": "#f2f2f2"},
  "data": {"values": [{"label": "spnd−N521"}]},
  "mark": {"type": "text", "font": "Liberation Sans", "fontSize": 48, "fontStyle": "italic", "color": "black", "baseline": "middle"},
  "encoding": {
    "x": {"datum": 25, "type": "quantitative", "scale": {"domain": [-3.5, 53.5], "nice": false, "zero": false}, "axis": null},
    "text": {"field": "label"}
  }
},
{
  "width": 965, "height": 56,
  "view": {"fill": "#f2f2f2"},
  "data": {"values": [{"label": "spnd−N523"}]},
  "mark": {"type": "text", "font": "Liberation Sans", "fontSize": 48, "fontStyle": "italic", "color": "black", "baseline": "middle"},
  "encoding": {
    "x": {"datum": 25, "type": "quantitative", "scale": {"domain": [-3.5, 53.5], "nice": false, "zero": false}, "axis": null},
    "text": {"field": "label"}
  }
},
{
  "width": 965, "height": 968,
  "encoding": {"x": {"field": "freq", "type": "quantitative", "scale": {"domain": [-3.5, 53.5], "nice": false, "zero": false},
    "axis": {"orient": "bottom", "values": [0, 10, 20, 30, 40, 50], "tickSize": 10, "labelPadding": 4, "labelFontSize": 16,
             "title": "Frequency (Hz)", "titleX": 965, "titleY": 68, "titleAlign": "center", "titleBaseline": "middle",
             "titleFontSize": 18, "titleFontStyle": "italic", "titleFontWeight": "normal", "titleColor": "#333333", "titleFont": "Liberation Sans"}}},
  "layer": [
    {"data": {"name": "bands"}, "mark": {"type": "rect", "color": "#d3d3d3"}, "encoding": {"x2": {"field": "freq_end"}}},
    {"data": {"name": "markers"}, "mark": {"type": "rule", "color": "#333333", "strokeDash": [6, 5], "strokeWidth": 1.4}, "encoding": {}},
    {"data": {"name": "N521"}, "mark": {"type": "line", "color": "black", "strokeWidth": 1.3, "clip": true},
     "encoding": {"y": {"field": "log_psd", "type": "quantitative", "scale": {"domain": [-11.657, -4.62], "nice": false, "zero": false},
       "axis": {"orient": "left", "values": [-10, -8, -6], "tickSize": 11, "labelPadding": 6, "labelFontSize": 11,
                "labelExpr": "datum.value == -6 ? '10⁻⁶' : datum.value == -8 ? '10⁻⁸' : '10⁻¹⁰'",
                "title": "PSD(V²/Hz)", "titleX": -74, "titleY": -28, "titleAlign": "center", "titleBaseline": "bottom", "titleAngle": -90,
                "titleFontSize": 21, "titleFontStyle": "italic", "titleFontWeight": "normal", "titleColor": "#333333", "titleFont": "Liberation Sans"}}}}
  ]
},
{
  "width": 965, "height": 968,
  "encoding": {"x": {"field": "freq", "type": "quantitative", "scale": {"domain": [-3.5, 53.5], "nice": false, "zero": false},
    "axis": {"orient": "bottom", "values": [0, 10, 20, 30, 40, 50], "tickSize": 10, "labels": false, "title": null}}},
  "layer": [
    {"data": {"name": "bands"}, "mark": {"type": "rect", "color": "#d3d3d3"}, "encoding": {"x2": {"field": "freq_end"}}},
    {"data": {"name": "markers"}, "mark": {"type": "rule", "color": "#333333", "strokeDash": [6, 5], "strokeWidth": 1.4}, "encoding": {}},
    {"data": {"name": "N523"}, "mark": {"type": "line", "color": "black", "strokeWidth": 1.3, "clip": true},
     "encoding": {"y": {"field": "log_psd", "type": "quantitative", "scale": {"domain": [-11.657, -4.62], "nice": false, "zero": false},
       "axis": {"orient": "right", "values": [-10, -8, -6], "labels": false, "tickSize": 11, "title": null}}}}
  ]
}
]
}
